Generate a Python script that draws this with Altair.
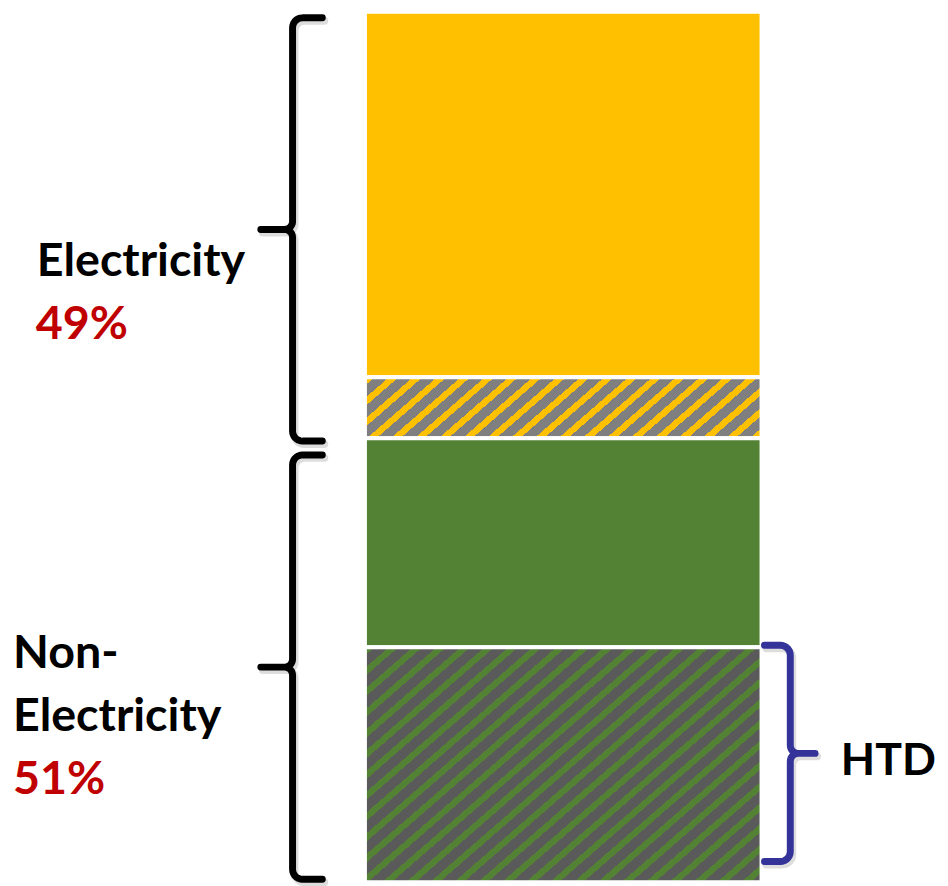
import altair as alt
import pandas as pd
import numpy as np

# ---------------- data ----------------
segments = ["Electricity", "Electricity (hatched)", "Non-Electricity", "HTD"]
shares = [42, 7, 24, 27]          # percent of total, top to bottom
groups = ["Electricity", "Non-Electricity"]
group_shares = [49, 51]
group_labels = ["49%", "51%"]

# ---------------- styles / layout ----------------
W, H = 940, 878
UNIT = 100.0 / H                   # data units per pixel (vertical)
base_colors = ["#FFC000", "#FFC000", "#548235", "#548235"]
hatch_colors = [None, "#7F7F7F", None, "#5A5A5A"]
BAR_X0, BAR_X1 = 360, 760
FONT = "Lato"
FS = 47
RED = "#C00000"
BLUE = "#333399"

# stacked positions (top to bottom)
tops, bots = [], []
acc = 100.0
for v in shares:
    tops.append(acc)
    bots.append(acc - v)
    acc -= v

df = pd.DataFrame({"segment": segments, "top": tops, "bot": bots,
                   "color": base_colors})

xs = alt.Scale(domain=[0, W], range=[0, W])
ys = alt.Scale(domain=[0, 100])

layers = []

for i, seg in enumerate(segments):
    row = df.iloc[[i]]
    if hatch_colors[i] is None:
        fill = base_colors[i]
    else:
        w_px = BAR_X1 - BAR_X0
        h_px = shares[i] / UNIT
        s = 0.87          # stripe slope
        pv = 21.0         # vertical period in px
        frac = 0.4
        k = h_px / (s * w_px)
        lam = (1 + k) / (1 + k * k)
        n = (s * w_px + h_px) / pv
        stops = []
        j = 0
        while j / n < 1:
            a = j / n
            b = min((j + frac) / n, 1)
            c = min((j + 1) / n, 1)
            stops += [{"offset": a, "color": base_colors[i]},
                      {"offset": b, "color": base_colors[i]},
                      {"offset": b, "color": hatch_colors[i]},
                      {"offset": c, "color": hatch_colors[i]}]
            j += 1
        fill = {"gradient": "linear", "x1": 0, "y1": 0,
                "x2": lam, "y2": lam * k, "stops": stops}
    layers.append(
        alt.Chart(row).mark_rect(fill=fill, stroke="white", strokeWidth=4).encode(
            x=alt.value(BAR_X0), x2=alt.value(BAR_X1),
            y=alt.Y("top:Q", scale=ys, axis=None),
            y2="bot:Q",
        )
    )

# ---------------- braces ----------------
def brace(name, y_top, y_bot, spine, end, tip, color, r=10, r2=8):
    d = 1 if end > spine else -1
    y_mid = (y_top + y_bot) / 2
    pts = [(end, y_top)]
    th = np.linspace(0, np.pi / 2, 8)
    for t in th:
        pts.append((spine + d * r * (1 - np.sin(t)), y_top - r * UNIT * (1 - np.cos(t))))
    for t in th:
        pts.append((spine - d * r2 * (1 - np.cos(t)), y_mid + r2 * UNIT * (1 - np.sin(t))))
    pts.append((tip, y_mid))
    for t in th[::-1]:
        pts.append((spine - d * r2 * (1 - np.cos(t)), y_mid - r2 * UNIT * (1 - np.sin(t))))
    for t in th[::-1]:
        pts.append((spine + d * r * (1 - np.sin(t)), y_bot + r * UNIT * (1 - np.cos(t))))
    pts.append((end, y_bot))
    return pd.DataFrame({"x": [p[0] for p in pts], "y": [p[1] for p in pts],
                         "o": list(range(len(pts))), "b": name, "c": color})

braces = pd.concat([
    brace("elec", 99.3, 50.68, 287, 317, 255, "black"),
    brace("nonelec", 49.09, 0.34, 287, 317, 255, "black"),
    brace("htd", 27.22, 2.39, 789, 763, 814, BLUE),
])

shadow = alt.Chart(braces.assign(x=braces.x + 2, y=braces.y - 3 * UNIT)).mark_line(
    strokeWidth=8, strokeCap="round", strokeJoin="round", opacity=0.18, color="#444"
).encode(x=alt.X("x:Q", scale=xs, axis=None), y=alt.Y("y:Q", scale=ys, axis=None),
         order="o:Q", detail="b:N")
lines = alt.Chart(braces).mark_line(
    strokeWidth=7, strokeCap="round", strokeJoin="round"
).encode(x=alt.X("x:Q", scale=xs, axis=None), y=alt.Y("y:Q", scale=ys, axis=None),
         order="o:Q", detail="b:N", color=alt.Color("c:N", scale=None))

# ---------------- labels ----------------
def py(page_y):
    return 100 - (page_y - 8) * UNIT

labels = pd.DataFrame({
    "text": [groups[0], group_labels[0], "Non-", "Electricity", group_labels[1], "HTD"],
    "x": [29, 28, 5, 5, 5, 840],
    "y": [py(275), py(338), py(670), py(733), py(797), py(778)],
    "c": ["black", RED, "black", "black", RED, "black"],
    "s": [FS, FS, FS, FS, FS, 45],
})
texts = alt.Chart(labels).mark_text(
    align="left", baseline="alphabetic", font=FONT, fontWeight="bold"
).encode(x=alt.X("x:Q", scale=xs, axis=None), y=alt.Y("y:Q", scale=ys, axis=None),
         text="text:N", color=alt.Color("c:N", scale=None),
         size=alt.Size("s:Q", scale=None))

chart = alt.layer(*layers, shadow, lines, texts).properties(
    width=W, height=H, padding=0,
    autosize=alt.AutoSizeParams(type="none"),
).configure_view(stroke=None)

chart.save("out.html", embed_options={"renderer": "svg", "actions": False})
